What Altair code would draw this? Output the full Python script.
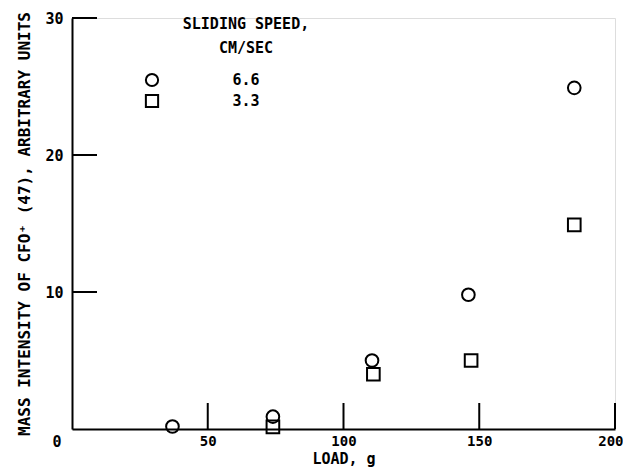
import altair as alt
import pandas as pd

# Data
circle_load = [37, 74, 110.5, 146, 185]
circle_intensity = [0.18, 0.9, 5.0, 9.8, 24.9]
square_load = [74, 111, 147, 185]
square_intensity = [0.15, 4.0, 5.0, 14.9]

x_tick_values = [50, 100, 150, 200]
y_tick_values = [10, 20, 30]

legend_title = ["SLIDING SPEED,", "CM/SEC"]
legend_labels = ["6.6", "3.3"]
legend_shapes = ["circle", "square"]

FONT = "DejaVu Sans Mono"
W, H = 543, 411

df = pd.concat([
    pd.DataFrame({"load": circle_load, "intensity": circle_intensity, "shape": "circle"}),
    pd.DataFrame({"load": square_load, "intensity": square_intensity, "shape": "square"}),
])

xscale = alt.Scale(domain=[0, 200], nice=False, zero=True)
yscale = alt.Scale(domain=[0, 30], nice=False, zero=True)

points = alt.Chart(df).mark_point(filled=False, color="black", opacity=1, strokeWidth=2, size=160).encode(
    x=alt.X("load:Q", scale=xscale,
            axis=alt.Axis(title="LOAD, g", values=x_tick_values, ticks=False, grid=False,
                          domainColor="black", domainWidth=2, labelPadding=5,
                          labelFlush=True, labelFlushOffset=8,
                          labelFont=FONT, labelFontSize=14, labelFontWeight="bold", labelColor="black",
                          titleFont=FONT, titleFontSize=15, titleFontWeight="bold", titleColor="black",
                          titlePadding=3)),
    y=alt.Y("intensity:Q", scale=yscale,
            axis=alt.Axis(title="MASS INTENSITY OF CFO\u207a (47), ARBITRARY UNITS", values=y_tick_values,
                          ticks=False, grid=False, domainColor="black", domainWidth=2, labelPadding=9,
                          labelFont=FONT, labelFontSize=15, labelFontWeight="bold", labelColor="black",
                          titleFont=FONT, titleFontSize=16, titleFontWeight="bold", titleColor="black",
                          titlePadding=12)),
    shape=alt.Shape("shape:N", scale=alt.Scale(domain=legend_shapes, range=legend_shapes), legend=None),
)

xticks = alt.Chart(pd.DataFrame({"v": x_tick_values})).mark_rule(color="black", strokeWidth=2).encode(
    x=alt.X("v:Q", scale=xscale), y=alt.value(H - 26), y2=alt.value(H)
)
yticks = alt.Chart(pd.DataFrame({"v": y_tick_values})).mark_rule(color="black", strokeWidth=2).encode(
    y=alt.Y("v:Q", scale=yscale), x=alt.value(0), x2=alt.value(25)
)

zero_label = alt.Chart(pd.DataFrame({"t": ["0"]})).mark_text(
    font=FONT, fontSize=15, fontWeight="bold", color="black", align="center", baseline="middle"
).encode(text="t:N", x=alt.value(-15), y=alt.value(H + 13))

legend_layers = []
for i, t in enumerate(legend_title):
    legend_layers.append(
        alt.Chart(pd.DataFrame({"t": [t]})).mark_text(
            font=FONT, fontSize=15, fontWeight="bold", color="black", align="center", baseline="middle"
        ).encode(text="t:N", x=alt.value(174), y=alt.value(6 + 24 * i))
    )
for i, (lab, shp) in enumerate(zip(legend_labels, legend_shapes)):
    legend_layers.append(
        alt.Chart(pd.DataFrame({"t": [lab]})).mark_text(
            font=FONT, fontSize=15, fontWeight="bold", color="black", align="center", baseline="middle"
        ).encode(text="t:N", x=alt.value(174), y=alt.value(62 + 21 * i))
    )
    legend_layers.append(
        alt.Chart(pd.DataFrame({"t": [lab]})).mark_point(
            filled=False, color="black", opacity=1, strokeWidth=2, size=150, shape=shp
        ).encode(x=alt.value(80), y=alt.value(62 + 21 * i))
    )

chart = alt.layer(points, xticks, yticks, zero_label, *legend_layers).properties(
    width=W, height=H,
    autosize=alt.AutoSizeParams(type="none"),
    padding={"left": 64, "top": 10, "right": 8, "bottom": 39},
).configure_view(stroke=None).configure(background="white")

chart.save("out.html", embed_options={"renderer": "svg", "actions": False})
